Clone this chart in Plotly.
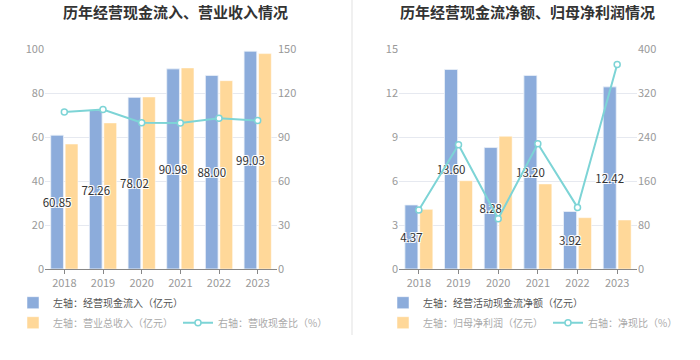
import plotly.graph_objects as go

years = ["2018", "2019", "2020", "2021", "2022", "2023"]

# Left chart
cash_inflow = [60.85, 72.26, 78.02, 90.98, 88.00, 99.03]
revenue = [56.8, 66.4, 78.2, 91.4, 85.6, 97.9]
cash_rev_ratio = [107.1, 108.8, 99.8, 99.5, 102.8, 101.2]

# Right chart
op_cash_net = [4.37, 13.60, 8.28, 13.20, 3.92, 12.42]
net_profit = [4.07, 6.02, 9.05, 5.80, 3.50, 3.34]
net_cash_ratio = [107.4, 225.9, 91.5, 227.6, 112.0, 371.9]

left_title = "历年经营现金流入、营业收入情况"
right_title = "历年经营现金流净额、归母净利润情况"

BLUE = "#8cacdb"
YELLOW = "#ffd899"
TEAL = "#7dd4d6"
FONT = "Noto Sans CJK SC"
HALO = "1px 1px 0 #fff, -1px -1px 0 #fff, 1px -1px 0 #fff, -1px 1px 0 #fff"

W, H = 700, 360

fig = go.Figure()

def add_chart(xa, ya, ya2, bars1, bars2, line, n1, n2, n3, lg1, lg2):
    fig.add_trace(go.Bar(x=years, y=bars1, name=n1, marker=dict(color=BLUE, line=dict(color="#ffffff", width=0.5)),
                         offsetgroup="a", xaxis=xa, yaxis=ya, legend=lg1, hoverinfo="skip"))
    fig.add_trace(go.Bar(x=years, y=bars2, name=n2, marker=dict(color=YELLOW, line=dict(color="#ffffff", width=0.5)),
                         offsetgroup="b", xaxis=xa, yaxis=ya, legend=lg2, hoverinfo="skip"))
    # transparent copy of the first series carrying its value labels, drawn on top
    fig.add_trace(go.Bar(x=years, y=bars1, name=n1, marker=dict(color="rgba(0,0,0,0)"),
                         text=[f"{v:.2f}" for v in bars1], textposition="inside", insidetextanchor="middle",
                         constraintext="none", textangle=0, cliponaxis=False,
                         textfont=dict(family=FONT, size=11.5, color="#333333", shadow=HALO),
                         offsetgroup="a", xaxis=xa, yaxis=ya, showlegend=False, hoverinfo="skip"))
    fig.add_trace(go.Scatter(x=years, y=line, name=n3, mode="lines+markers",
                             line=dict(color=TEAL, width=2),
                             marker=dict(symbol="circle", size=6, color="#ffffff", line=dict(color=TEAL, width=1.5)),
                             xaxis=xa, yaxis=ya2, legend=lg2, hoverinfo="skip"))

add_chart("x", "y", "y2", cash_inflow, revenue, cash_rev_ratio,
          "左轴：经营现金流入（亿元）", "左轴：营业总收入（亿元）", "右轴：营收现金比（%）", "legend", "legend2")
add_chart("x2", "y3", "y4", op_cash_net, net_profit, net_cash_ratio,
          "左轴：经营活动现金流净额（亿元）", "左轴：归母净利润（亿元）", "右轴：净现比（%）", "legend3", "legend4")

ydom = [1 - 269 / H, 1 - 49 / H]
tickfont = dict(family=FONT, size=11, color="#999999")
xcommon = dict(type="category", showline=True, linecolor="#888888", linewidth=1, ticks="outside",
               ticklen=4, tickcolor="#888888", tickfont=tickfont, showgrid=False, fixedrange=True, automargin=False)
ycommon = dict(showline=False, zeroline=False, tickfont=tickfont, ticks="", fixedrange=True, automargin=False)

legcommon = dict(orientation="h", font=dict(family=FONT, size=10, color="#555555"), bgcolor="rgba(0,0,0,0)",
                 xanchor="left", yanchor="middle", itemclick=False, itemdoubleclick=False, tracegroupgap=0)
leg2 = dict(legcommon, font=dict(family=FONT, size=10, color="#aaaaaa"))

fig.update_layout(
    width=W, height=H,
    margin=dict(l=0, r=0, t=0, b=0, autoexpand=False),
    paper_bgcolor="#ffffff", plot_bgcolor="#ffffff",
    barmode="group", bargap=0.25, bargroupgap=0.12,
    hovermode=False,
    xaxis=dict(xcommon, domain=[45 / W, 277 / W], anchor="y"),
    yaxis=dict(ycommon, domain=ydom, range=[0, 100], dtick=20, showgrid=True, gridcolor="#e6e9f0", anchor="x"),
    yaxis2=dict(ycommon, range=[0, 150], dtick=30, overlaying="y", side="right", anchor="x", showgrid=False),
    xaxis2=dict(xcommon, domain=[399 / W, 637 / W], anchor="y3"),
    yaxis3=dict(ycommon, domain=ydom, range=[0, 15], dtick=3, showgrid=True, gridcolor="#e6e9f0", anchor="x2"),
    yaxis4=dict(ycommon, range=[0, 400], dtick=80, overlaying="y3", side="right", anchor="x2", showgrid=False),
    legend=dict(legcommon, x=13 / W, y=1 - 302.7 / H),
    legend2=dict(leg2, x=13 / W, y=1 - 322.7 / H),
    legend3=dict(legcommon, x=383 / W, y=1 - 302.7 / H),
    legend4=dict(leg2, x=383 / W, y=1 - 322.7 / H),
    showlegend=True,
    shapes=[dict(type="line", xref="paper", yref="paper", x0=352 / W, x1=352 / W, y0=1, y1=1 - 335 / H,
                 line=dict(color="#f0f0f0", width=2))],
)

fig.add_annotation(x=175 / W, y=1 - 12 / H, xref="paper", yref="paper", text=f"<b>{left_title}</b>",
                   showarrow=False, font=dict(family=FONT, size=15, color="#333333"),
                   xanchor="center", yanchor="middle")
fig.add_annotation(x=527 / W, y=1 - 12 / H, xref="paper", yref="paper", text=f"<b>{right_title}</b>",
                   showarrow=False, font=dict(family=FONT, size=15, color="#333333"),
                   xanchor="center", yanchor="middle")

fig.write_html("out.html", config={"displayModeBar": False},
               post_script="document.body.style.margin='0px';")
